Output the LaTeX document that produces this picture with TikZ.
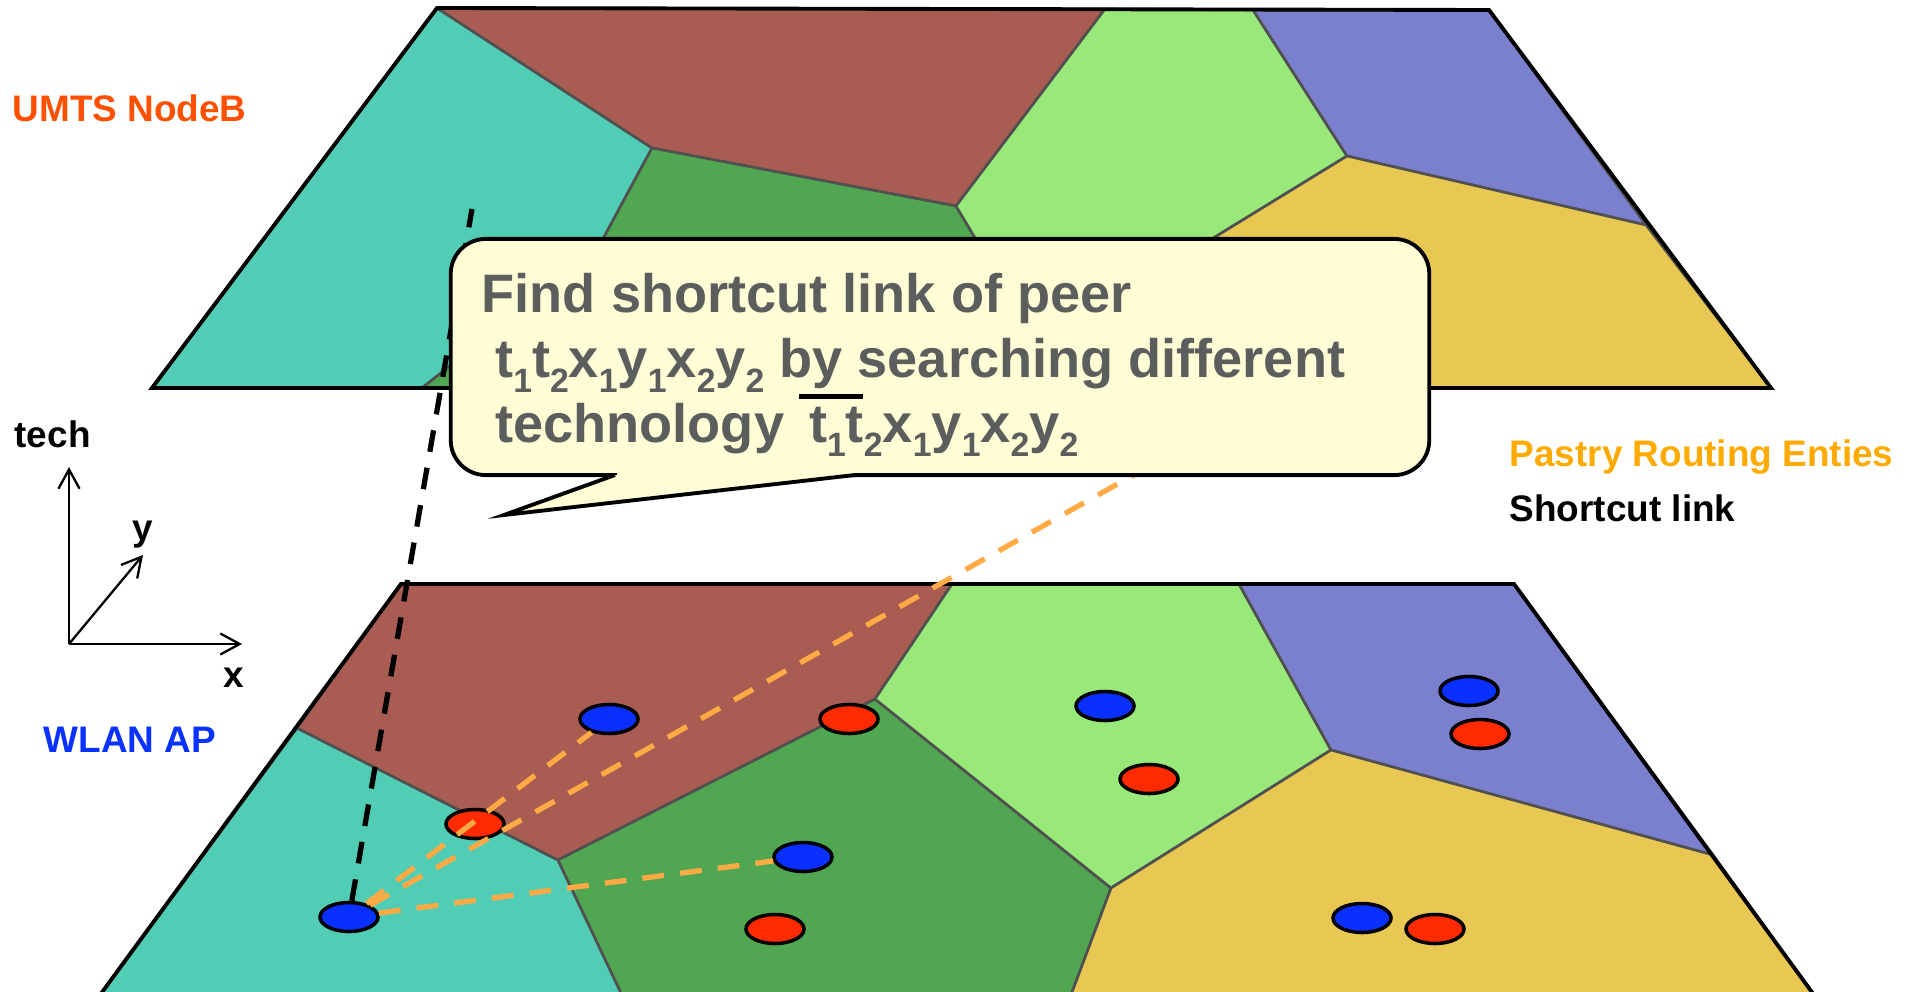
\documentclass[tikz,border=0pt]{standalone}
\usepackage{fontspec}
\setmainfont{Liberation Sans}
\usetikzlibrary{arrows.meta,positioning,shapes.geometric}

\definecolor{cellturq}{RGB}{81,205,181}
\definecolor{cellbrown}{RGB}{168,92,82}
\definecolor{celldkgreen}{RGB}{81,166,82}
\definecolor{cellltgreen}{RGB}{152,232,122}
\definecolor{cellpurple}{RGB}{122,128,206}
\definecolor{cellyellow}{RGB}{232,200,82}
\definecolor{edgegray}{RGB}{80,80,80}
\definecolor{apblue}{RGB}{10,48,255}
\definecolor{nbred}{RGB}{255,42,0}
\definecolor{routeorange}{RGB}{255,170,68}
\definecolor{pastryorange}{RGB}{255,170,0}
\definecolor{umtsorange}{RGB}{255,80,0}
\definecolor{wlanblue}{RGB}{10,50,255}
\definecolor{notefill}{RGB}{255,253,213}
\definecolor{notetext}{RGB}{92,94,94}

\newcommand{\low}[1]{\raisebox{-4.2pt}{\fontsize{9.6pt}{9.6pt}\selectfont #1}}

\begin{document}
\begin{tikzpicture}[
  x=0.01cm, y=-0.01cm,
  cell/.style={draw=edgegray, line width=0.75pt, line join=round},
  rim/.style={draw=black, line width=1.1pt, line join=miter},
  ap/.style={ellipse, draw, line width=1pt, fill=apblue, minimum width=0.58cm, minimum height=0.29cm, inner sep=0pt},
  nodeb/.style={ap, fill=nbred},
  shortcut/.style={line width=1.5pt, dash pattern=on 6.2pt off 4.6pt},
  route/.style={shortcut, draw=routeorange},
  lbl/.style={inner sep=0pt, anchor=base west, font=\fontsize{10.5pt}{12pt}\selectfont\bfseries},
  axis/.style={line width=0.65pt, -{Straight Barb[length=5.5pt,width=6pt]}},
  bubble/.style={draw, line width=1.1pt, fill=notefill, rounded corners=0.35cm, minimum width=9.78cm, minimum height=2.36cm},
  msg/.style={inner sep=0pt, anchor=base west, align=left, text=notetext, font=\fontsize{15.4pt}{18.35pt}\selectfont\bfseries}
]
\useasboundingbox (0,0) rectangle (1916,991);

% UMTS layer
\coordinate (tTL) at (437,8);
\coordinate (tTR) at (1489,10);
\coordinate (tBR) at (1771,388);
\coordinate (tBL) at (152,388);
\coordinate (tA) at (1105,9);
\coordinate (tB) at (1253,10);
\coordinate (tR) at (1646,225);
\coordinate (tV1) at (652,148);
\coordinate (tV2) at (956,206);
\coordinate (tV3) at (1347,156);
\coordinate (tH1) at (597,250);
\coordinate (tH2) at (1039,345);
\coordinate (tD1) at (422,388);
\coordinate (tD2) at (1010,388);

\path[cell, fill=cellturq] (tTL) -- (tV1) -- (tH1) -- (tD1) -- (tBL) -- cycle;
\path[cell, fill=cellbrown] (tTL) -- (tA) -- (tV2) -- (tV1) -- cycle;
\path[cell, fill=celldkgreen] (tV1) -- (tV2) -- (tH2) -- (tD2) -- (tD1) -- (tH1) -- cycle;
\path[cell, fill=cellltgreen] (tA) -- (tB) -- (tV3) -- (tH2) -- (tV2) -- cycle;
\path[cell, fill=cellpurple] (tB) -- (tTR) -- (tR) -- (tV3) -- cycle;
\path[cell, fill=cellyellow] (tV3) -- (tR) -- (tBR) -- (tD2) -- (tH2) -- cycle;
\draw[rim] (tTL) -- (tTR) -- (tBR) -- (tBL) -- cycle;

% WLAN layer
\coordinate (bTL) at (401,584);
\coordinate (bTR) at (1514,584);
\coordinate (bBR) at (1814,995);
\coordinate (bBL) at (100,995);
\coordinate (bL) at (297,728);
\coordinate (bA) at (952,584);
\coordinate (bB) at (1239,584);
\coordinate (bR) at (1713,855);
\coordinate (bW1) at (558,860);
\coordinate (bW2) at (875,699);
\coordinate (bW3) at (1111,888);
\coordinate (bW4) at (1331,750);
\coordinate (bD1) at (622,995);
\coordinate (bD2) at (1071,995);

\path[cell, fill=cellturq] (bL) -- (bW1) -- (bD1) -- (bBL) -- cycle;
\path[cell, fill=cellbrown] (bTL) -- (bA) -- (bW2) -- (bW1) -- (bL) -- cycle;
\path[cell, fill=celldkgreen] (bW1) -- (bW2) -- (bW3) -- (bD2) -- (bD1) -- cycle;
\path[cell, fill=cellltgreen] (bA) -- (bB) -- (bW4) -- (bW3) -- (bW2) -- cycle;
\path[cell, fill=cellpurple] (bB) -- (bTR) -- (bR) -- (bW4) -- cycle;
\path[cell, fill=cellyellow] (bW4) -- (bR) -- (bBR) -- (bD2) -- (bW3) -- cycle;
\draw[rim] (bTL) -- (bTR) -- (bBR) -- (bBL) -- cycle;

% peers
\node[ap] (b1) at (609,719) {};
\node[nodeb] (r1) at (849,719) {};
\node[nodeb] (r2) at (475,824) {};
\node[ap] (b2) at (803,857) {};
\node[ap] (b3) at (349,917) {};
\node[nodeb] (r3) at (775,929) {};
\node[ap] (b4) at (1105,706) {};
\node[nodeb] (r4) at (1149,779) {};
\node[ap] (b5) at (1469,691) {};
\node[nodeb] (r5) at (1480,734) {};
\node[ap] (b6) at (1362,918) {};
\node[nodeb] (r6) at (1435,929) {};

% links
\coordinate (peer) at (472,209);
\coordinate (uplink) at (1160,460);
\draw[shortcut] (b3) -- (peer);
\draw[route] (b3) -- (b1);
\draw[route] (b3) -- (uplink);
\draw[route] (b3) -- (b2);

% callout
\node[bubble] (bubble) at (940,357) {};
\fill[notefill] (617,471) rectangle (853,476.5);
\filldraw[fill=notefill, line width=1.1pt, line join=miter] (615,475) -- (504,515) -- (855,475);
\node[msg] (msg) at (481,442) {Find shortcut link of peer\\
\hspace*{0.25em}t\low1t\low2x\low1y\low1x\low2y\low2 by searching different\\
\hspace*{0.25em}technology \rlap{\textcolor{black}{\raisebox{0.43cm}{\rule{0.64cm}{0.045cm}}}}\hspace{0.1cm}t\low1t\low2x\low1y\low1x\low2y\low2};

% labels
\node[lbl, text=umtsorange] (umts) at (12,122) {UMTS NodeB};
\node[lbl, text=wlanblue] (wlan) at (43,752) {WLAN AP};
\node[lbl, text=pastryorange] (pastry) at (1509,466) {Pastry Routing Enties};
\node[lbl, below=0.19cm of pastry.south west, anchor=north west] (shortlbl) {Shortcut link};

% axes
\coordinate (origin) at (69,644);
\coordinate (techtip) at (69,467);
\coordinate (xtip) at (242,644);
\coordinate (ytip) at (143,555);
\draw[axis] (origin) -- (techtip);
\draw[axis] (origin) -- (xtip);
\draw[axis] (origin) -- (ytip);
\node[lbl] (techlbl) at (14,447) {tech};
\node[lbl, above=0.06cm of ytip] (ylbl) {y};
\node[lbl] (xlbl) at (223,687) {x};
\end{tikzpicture}
\end{document}
